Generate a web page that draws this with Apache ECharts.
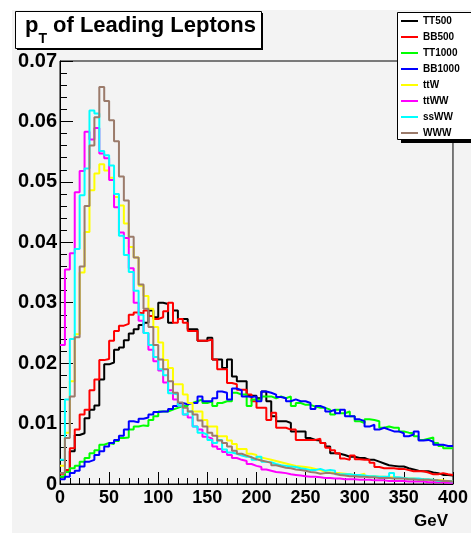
<!DOCTYPE html>
<html><head><meta charset="utf-8">
<style>
html,body{margin:0;padding:0;background:#ffffff;}
#bg{position:absolute;left:12px;top:10px;width:459px;height:523px;background:#f3f3f3;}
#c{position:absolute;left:0;top:0;width:471px;height:533px;}
</style>
<script src="https://cdn.jsdelivr.net/npm/echarts@6/dist/echarts.min.js"></script>
</head><body><div id="bg"></div><div id="c"></div><script>
// Histogram binning: 80 bins of 5 GeV from 0 to 400
const binWidth = 5;
const nBins = 80;
const xTickLabels = ['0','50','100','150','200','250','300','350','400'];
const seriesNames = ['TT500','BB500','TT1000','BB1000','ttW','ttWW','ssWW','WWW'];
const seriesColors = ['#000000','#ff0000','#00ff00','#0000ff','#ffff00','#ff00ff','#00ffff','#9b7b6b'];

const tt500 = [
0.0012,0.0020,0.0054,0.0081,0.0084,0.0109,0.0123,0.0130,0.0173,0.0198,
0.0201,0.0222,0.0226,0.0238,0.0249,0.0256,0.0263,0.0267,0.0287,0.0276,
0.0300,0.0298,0.0267,0.0287,0.0273,0.0273,0.0256,0.0256,0.0237,0.0237,
0.0242,0.0206,0.0206,0.0192,0.0206,0.0178,0.0170,0.0170,0.0146,0.0146,
0.0142,0.0153,0.0137,0.0112,0.0104,0.0104,0.0101,0.0087,0.0087,0.0087,
0.0076,0.0073,0.0072,0.0068,0.0062,0.0051,0.0050,0.0048,0.0045,0.0045,
0.0043,0.0043,0.0040,0.0040,0.0037,0.0034,0.0031,0.0030,0.0029,0.0029,
0.0026,0.0024,0.0022,0.0021,0.0021,0.0019,0.0018,0.0015,0.0015,0.0014];
const bb500 = [
0.0017,0.0023,0.0059,0.0090,0.0115,0.0123,0.0155,0.0173,0.0205,0.0207,
0.0237,0.0253,0.0262,0.0265,0.0280,0.0284,0.0282,0.0287,0.0278,0.0273,
0.0276,0.0286,0.0300,0.0267,0.0273,0.0267,0.0253,0.0253,0.0237,0.0237,
0.0239,0.0206,0.0190,0.0190,0.0167,0.0165,0.0156,0.0156,0.0148,0.0137,
0.0126,0.0126,0.0106,0.0118,0.0093,0.0093,0.0090,0.0090,0.0073,0.0073,
0.0073,0.0073,0.0075,0.0068,0.0060,0.0056,0.0051,0.0042,0.0040,0.0047,
0.0041,0.0040,0.0040,0.0035,0.0028,0.0026,0.0026,0.0026,0.0025,0.0025,
0.0023,0.0021,0.0021,0.0021,0.0019,0.0016,0.0016,0.0018,0.0016,0.0015];
const tt1000 = [
0.0012,0.0020,0.0026,0.0030,0.0037,0.0043,0.0051,0.0056,0.0065,0.0068,
0.0066,0.0071,0.0076,0.0077,0.0090,0.0095,0.0097,0.0096,0.0106,0.0112,
0.0120,0.0120,0.0123,0.0126,0.0129,0.0129,0.0134,0.0137,0.0140,0.0134,
0.0137,0.0129,0.0134,0.0137,0.0137,0.0151,0.0148,0.0148,0.0129,0.0140,
0.0140,0.0145,0.0145,0.0142,0.0145,0.0142,0.0145,0.0129,0.0134,0.0131,
0.0131,0.0128,0.0126,0.0126,0.0123,0.0115,0.0123,0.0117,0.0120,0.0112,
0.0104,0.0101,0.0107,0.0106,0.0104,0.0093,0.0095,0.0093,0.0093,0.0087,
0.0085,0.0084,0.0079,0.0073,0.0075,0.0077,0.0068,0.0063,0.0059,0.0059];
const bb1000 = [
0.0008,0.0012,0.0018,0.0022,0.0029,0.0037,0.0040,0.0048,0.0054,0.0062,
0.0068,0.0073,0.0080,0.0090,0.0104,0.0102,0.0108,0.0110,0.0115,0.0119,
0.0120,0.0120,0.0124,0.0129,0.0134,0.0132,0.0134,0.0134,0.0145,0.0137,
0.0137,0.0142,0.0153,0.0151,0.0140,0.0158,0.0155,0.0145,0.0144,0.0145,
0.0137,0.0153,0.0151,0.0148,0.0144,0.0142,0.0137,0.0140,0.0137,0.0137,
0.0134,0.0124,0.0129,0.0126,0.0120,0.0123,0.0117,0.0123,0.0112,0.0112,
0.0107,0.0104,0.0095,0.0098,0.0090,0.0093,0.0090,0.0087,0.0087,0.0084,
0.0079,0.0082,0.0087,0.0072,0.0073,0.0070,0.0065,0.0065,0.0063,0.0063];
const ttW = [
0.0030,0.0085,0.0170,0.0248,0.0350,0.0417,0.0486,0.0514,0.0529,0.0519,
0.0507,0.0475,0.0461,0.0431,0.0392,0.0375,0.0328,0.0311,0.0290,0.0260,
0.0234,0.0205,0.0192,0.0165,0.0165,0.0148,0.0134,0.0120,0.0120,0.0106,
0.0095,0.0095,0.0079,0.0079,0.0072,0.0066,0.0058,0.0058,0.0050,0.0048,
0.0044,0.0042,0.0040,0.0038,0.0036,0.0034,0.0032,0.0030,0.0029,0.0028,
0.0027,0.0025,0.0023,0.0020,0.0019,0.0018,0.0018,0.0017,0.0016,0.0015,
0.0015,0.0017,0.0013,0.0013,0.0012,0.0012,0.0011,0.0011,0.0010,0.0010,
0.0009,0.0009,0.0008,0.0008,0.0007,0.0007,0.0006,0.0006,0.0005,0.0005];
const ttWW = [
0.0230,0.0355,0.0382,0.0483,0.0518,0.0583,0.0570,0.0589,0.0547,0.0539,
0.0503,0.0458,0.0416,0.0407,0.0357,0.0300,0.0270,0.0250,0.0222,0.0203,
0.0188,0.0168,0.0155,0.0140,0.0130,0.0115,0.0110,0.0095,0.0090,0.0078,
0.0075,0.0062,0.0058,0.0053,0.0048,0.0043,0.0040,0.0038,0.0033,0.0030,
0.0028,0.0024,0.0022,0.0020,0.0019,0.0018,0.0016,0.0015,0.0014,0.0013,
0.0012,0.0012,0.0011,0.0010,0.0010,0.0009,0.0009,0.0008,0.0008,0.0008,
0.0007,0.0007,0.0007,0.0006,0.0006,0.0006,0.0005,0.0005,0.0005,0.0005,
0.0004,0.0004,0.0004,0.0004,0.0003,0.0003,0.0003,0.0003,0.0002,0.0002];
const ssWW = [
0.0040,0.0140,0.0240,0.0389,0.0478,0.0522,0.0618,0.0613,0.0551,0.0544,
0.0527,0.0480,0.0411,0.0379,0.0351,0.0320,0.0280,0.0250,0.0230,0.0210,
0.0190,0.0180,0.0150,0.0148,0.0130,0.0115,0.0120,0.0095,0.0085,0.0082,
0.0073,0.0068,0.0073,0.0057,0.0052,0.0050,0.0047,0.0045,0.0045,0.0040,
0.0045,0.0037,0.0036,0.0033,0.0031,0.0030,0.0029,0.0028,0.0026,0.0025,
0.0023,0.0023,0.0025,0.0022,0.0023,0.0022,0.0016,0.0016,0.0016,0.0015,
0.0015,0.0014,0.0013,0.0013,0.0012,0.0012,0.0012,0.0018,0.0011,0.0010,
0.0009,0.0009,0.0009,0.0008,0.0008,0.0007,0.0005,0.0005,0.0005,0.0004];
const www = [
0.0018,0.0076,0.0145,0.0243,0.0360,0.0460,0.0560,0.0607,0.0657,0.0634,
0.0602,0.0567,0.0509,0.0469,0.0409,0.0375,0.0330,0.0290,0.0260,0.0230,
0.0206,0.0190,0.0170,0.0151,0.0135,0.0126,0.0120,0.0115,0.0105,0.0095,
0.0085,0.0080,0.0072,0.0068,0.0062,0.0055,0.0050,0.0047,0.0044,0.0041,
0.0039,0.0037,0.0035,0.0031,0.0029,0.0027,0.0026,0.0024,0.0023,0.0022,
0.0020,0.0019,0.0017,0.0018,0.0018,0.0017,0.0015,0.0014,0.0013,0.0013,
0.0012,0.0012,0.0011,0.0011,0.0010,0.0010,0.0010,0.0009,0.0009,0.0009,
0.0008,0.0008,0.0007,0.0007,0.0007,0.0006,0.0006,0.0005,0.0005,0.0004];

const allValues = [tt500, bb500, tt1000, bb1000, ttW, ttWW, ssWW, www];

function histPoints(vals){
  const pts = vals.map((v,i)=>[i*binWidth, v]);
  pts.push([nBins*binWidth, vals[vals.length-1]]);
  return pts;
}

const FONT = "'Liberation Sans', Arial, Helvetica, sans-serif";
const chart = echarts.init(document.getElementById('c'), null, {renderer:'canvas'});

const series = seriesNames.map((name, k)=>({
  name: name,
  type: 'line',
  step: 'end',
  symbol: 'none',
  showSymbol: false,
  color: seriesColors[k],
  itemStyle: {color: seriesColors[k]},
  lineStyle: {color: seriesColors[k], width: 2},
  data: histPoints(allValues[k]),
  animation: false,
  z: 2 + k*0.01
}));

chart.setOption({
  backgroundColor: 'transparent',
  animation: false,
  grid: {left: 60, right: 13, top: 61, bottom: 49, show: true, borderColor: '#000', borderWidth: 1, backgroundColor: 'transparent'},
  xAxis: {
    type: 'value', min: 0, max: 400, interval: 50,
    axisLine: {show: true, lineStyle: {color: '#000', width: 1}},
    axisTick: {show: true, inside: true, length: 12, lineStyle: {color: '#000'}},
    minorTick: {show: true, splitNumber: 5, length: 6, lineStyle: {color: '#000'}},
    splitLine: {show: false},
    axisLabel: {color: '#000', fontFamily: FONT, fontWeight: 'bold', fontSize: 18, margin: 5,
      formatter: v => xTickLabels[Math.round(v/50)]}
  },
  yAxis: {
    type: 'value', min: 0, max: 0.07, interval: 0.01,
    axisLine: {show: true, lineStyle: {color: '#000', width: 1}},
    axisTick: {show: true, inside: true, length: 13, lineStyle: {color: '#000'}},
    minorTick: {show: true, splitNumber: 5, length: 7, lineStyle: {color: '#000'}},
    splitLine: {show: false},
    axisLabel: {color: '#000', fontFamily: FONT, fontWeight: 'bold', fontSize: 20, margin: 3,
      formatter: v => v === 0 ? '0' : v.toFixed(2)}
  },
  legend: {
    orient: 'vertical', left: 401, top: 13, padding: 0,
    icon: 'rect', itemWidth: 17, itemHeight: 2, itemGap: 0,
    textStyle: {color: '#000', fontFamily: FONT, fontWeight: 'bold', fontSize: 10, lineHeight: 16},
    data: seriesNames, selectedMode: false, z: 20
  },
  graphic: [
    {type: 'rect', z: 10, shape: {x: 17, y: 13, width: 246, height: 37}, style: {fill: '#000'}},
    {type: 'rect', z: 11, shape: {x: 15.5, y: 11.5, width: 246, height: 37}, style: {fill: '#fff', stroke: '#000', lineWidth: 1}},
    {type: 'text', z: 12, style: {x: 25, y: 25.5, text: 'p', font: 'bold 22px ' + FONT, fill: '#000', verticalAlign: 'middle'}},
    {type: 'text', z: 12, style: {x: 38.5, y: 39, text: 'T', font: 'bold 14px ' + FONT, fill: '#000', verticalAlign: 'middle'}},
    {type: 'text', z: 12, style: {x: 53, y: 25.5, text: 'of Leading Leptons', font: 'bold 22px ' + FONT, fill: '#000', verticalAlign: 'middle'}},
    {type: 'rect', z: 10, shape: {x: 401, y: 16, width: 80, height: 127}, style: {fill: '#000'}},
    {type: 'rect', z: 11, shape: {x: 397.5, y: 12.5, width: 80, height: 127}, style: {fill: '#fff', stroke: '#000', lineWidth: 1}},
    {type: 'text', z: 12, style: {x: 448, y: 521, text: 'GeV', font: 'bold 17px ' + FONT, fill: '#000', align: 'right', verticalAlign: 'middle'}}
  ],
  series: series
});
</script></body></html>
